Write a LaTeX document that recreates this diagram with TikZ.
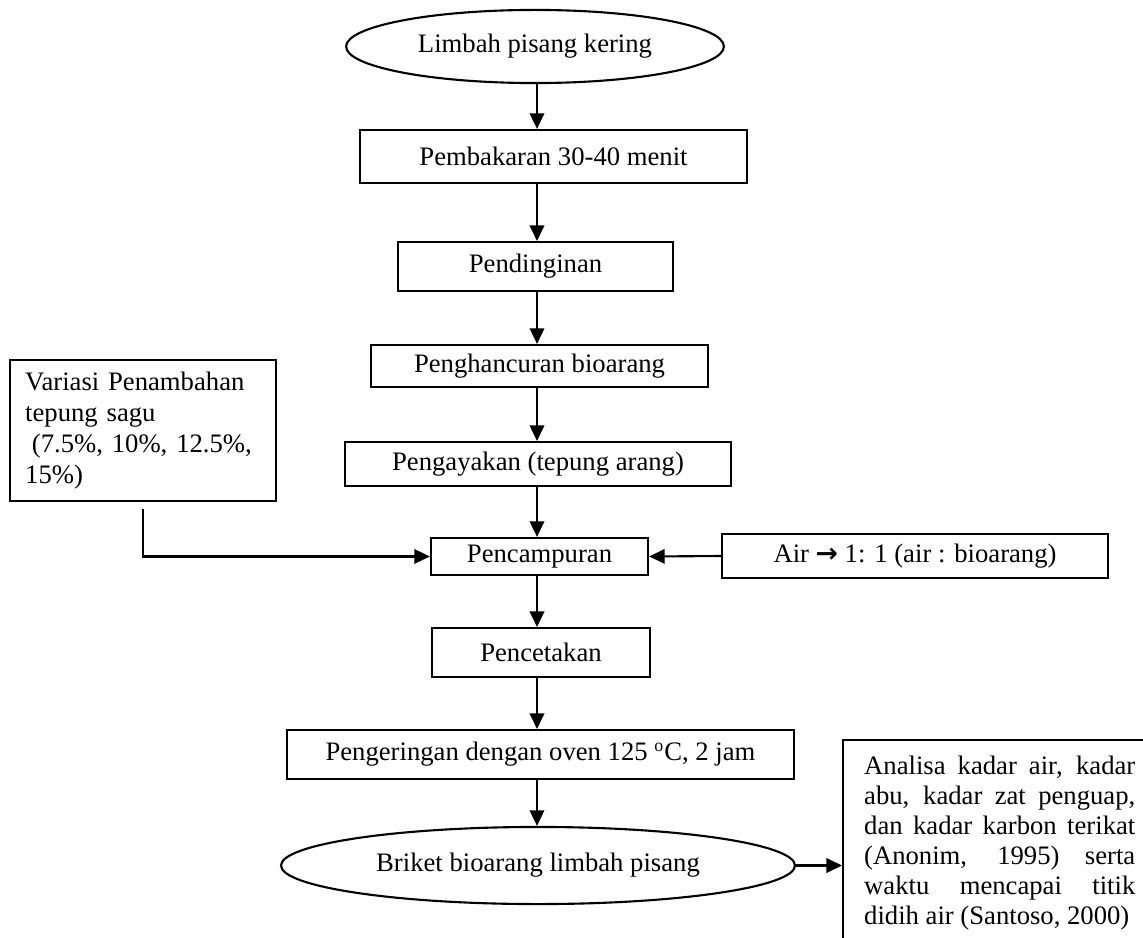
\documentclass[tikz,border=0pt]{standalone}
\usepackage{fontspec}
\setmainfont{Liberation Serif}
\newfontfamily\arrowfont{DejaVu Sans}
\usetikzlibrary{shapes.geometric,arrows.meta}

\begin{document}
\begin{tikzpicture}[x=0.45pt, y=-0.45pt, line width=0.95pt,
    >={Triangle[length=7pt,width=6.5pt]},
    proses/.style={draw, rectangle, inner sep=0pt, font=\fontsize{12}{13.8}\selectfont},
    oval/.style={draw, ellipse, inner sep=0pt, font=\fontsize{12}{13.8}\selectfont}]

          \useasboundingbox (0,0) rectangle (1143,937);
          \clip (0,0) rectangle (1143,937);

          % alur utama
          \node[oval, minimum width=170pt, minimum height=32.9pt] (limbah) at (535,46.5) {Limbah pisang kering};
          \node[proses, minimum width=174.2pt, minimum height=23.9pt] (bakar) at (553.5,156.5) {Pembakaran 30-40 menit};
          \node[proses, minimum width=123.8pt, minimum height=22pt] (dingin) at (535.5,266.5) {Pendinginan};
          \node[proses, minimum width=151.7pt, minimum height=18.9pt] (hancur) at (539.5,366) {Penghancuran bioarang};
          \node[proses, minimum width=173.7pt, minimum height=19.8pt] (ayak) at (538,464) {Pengayakan (tepung arang)};
          \node[proses, minimum width=97.7pt, minimum height=16.7pt] (campur) at (539.5,556.5) {Pencampuran};
          \node[proses, minimum width=98.1pt, minimum height=22pt] (cetak) at (541,652.5) {Pencetakan};
          \node[proses, minimum width=228.2pt, minimum height=22pt] (kering) at (540.5,754.5) {Pengeringan dengan oven 125 \textsuperscript{o}C, 2 jam};
          \node[oval, minimum width=231.3pt, minimum height=34.7pt] (briket) at (538,865.5) {Briket bioarang limbah pisang};

          % masukan samping
          \node[proses, minimum width=119.7pt, minimum height=63.5pt, text width=106pt, align=left,
                font=\fontsize{12}{14}\selectfont] (variasi) at (143,430.5)
                {Variasi Penambahan\\ tepung sagu\\ \hspace*{0.25em}(7.5\%, 10\%, 12.5\%,\\ 15\%)};
          \node[proses, minimum width=173.7pt, minimum height=19.8pt] (air) at (915,556) {Air {\arrowfont\bfseries →} 1: 1 (air : bioarang)};

          % analisa
          \node[draw, anchor=north west, inner xsep=9.5pt, inner ysep=7pt, font=\fontsize{12}{13.5}\selectfont] (analisa) at (842,739)
                {\parbox[t][110pt][t]{122pt}{Analisa kadar air, kadar\linebreak abu, kadar zat penguap,\linebreak dan kadar karbon terikat\linebreak (Anonim, 1995) serta\linebreak waktu mencapai titik\linebreak didih air (Santoso, 2000)}};

          \coordinate (kolom) at (537,0);

          \draw [->] (kolom |- limbah.south) -- (kolom |- bakar.north);
          \draw [->] (kolom |- bakar.south) -- (kolom |- dingin.north);
          \draw [->] (kolom |- dingin.south) -- (kolom |- hancur.north);
          \draw [->] (kolom |- hancur.south) -- (kolom |- ayak.north);
          \draw [->] (kolom |- ayak.south) -- (kolom |- campur.north);
          \draw [->] (kolom |- campur.south) -- (kolom |- cetak.north);
          \draw [->] (kolom |- cetak.south) -- (kolom |- kering.north);
          \draw [->] (kolom |- kering.south) -- (kolom |- briket.north);

          \draw [->, shorten <=3pt] (variasi.south) |- (campur.west);
          \draw [->] (air.west) -- (campur.east);
          \draw [->] (briket.east) -- (briket.east -| analisa.west);

        \end{tikzpicture}
\end{document}
